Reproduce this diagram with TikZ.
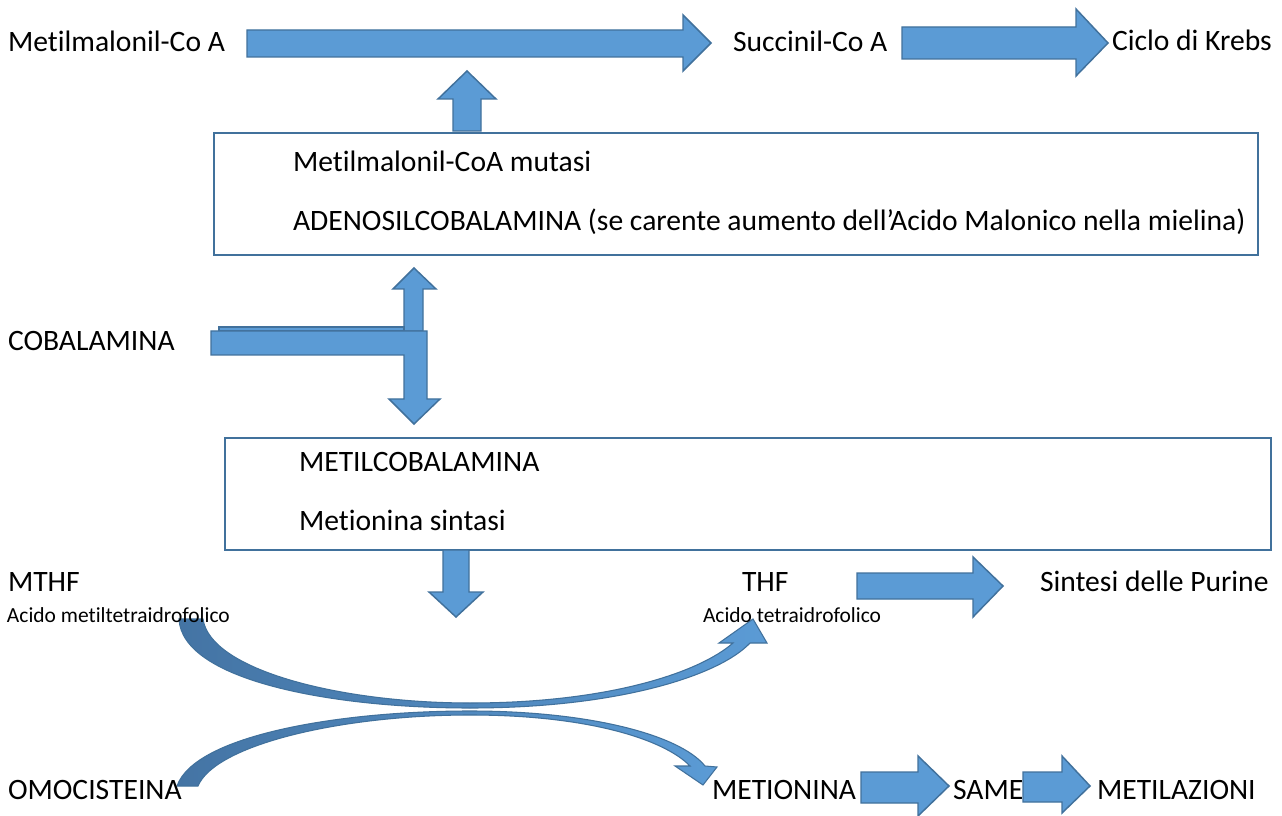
\documentclass[tikz,border=0pt]{standalone}
\usepackage{fontspec}
\setmainfont{Carlito}[Ligatures={NoCommon}]
\definecolor{afill}{RGB}{91,155,213}
\definecolor{aline}{RGB}{65,113,156}
\definecolor{cfill}{RGB}{68,116,164}
\tikzset{
  blockarrow/.style={fill=afill, draw=aline, line width=1.1pt, line join=miter},
  curvearrow/.style={left color=cfill, right color=afill, draw=aline, line width=0.8pt, line join=miter},
  boxstyle/.style={draw=aline, line width=1.4pt, fill=white},
  txt/.style={inner sep=0pt, outer sep=0pt, font=\fontsize{22.2}{26}\selectfont, text=black},
  small/.style={inner sep=0pt, outer sep=0pt, font=\fontsize{16.1}{19}\selectfont, text=black},
}
\begin{document}
\begin{tikzpicture}[x=0.75pt, y=-0.75pt]
\useasboundingbox (0,0) rectangle (1282,816);
\fill[white] (0,0) rectangle (1282,816);

% top row arrows
\draw[blockarrow] (247,30) -- (683,30) -- (683,15) -- (711,43) -- (683,71) -- (683,57) -- (247,57) -- cycle;
\draw[blockarrow] (902,27) -- (1076,27) -- (1076,9) -- (1108,43) -- (1076,76) -- (1076,59) -- (902,59) -- cycle;

% small up arrow above box 1
\draw[blockarrow] (453,131) -- (453,99) -- (438,99) -- (467,71) -- (496,99) -- (481,99) -- (481,131) -- cycle;

% box 1
\node[boxstyle, minimum width=1044*0.75pt, minimum height=122*0.75pt, anchor=north west, inner sep=0pt] (box1) at (213,132) {};
\node[txt, anchor=base west] (mutasi) at (293,172) {Metilmalonil-CoA mutasi};
\node[txt, anchor=base west] (adeno) at (293,231) {ADENOSILCOBALAMINA (se carente aumento dell’Acido Malonico nella mielina)};

% cobalamina T-shape
\draw[blockarrow] (404,331) -- (404,289) -- (393,289) -- (414,268) -- (436,289) -- (423,289) -- (423,331) -- cycle;
\draw[blockarrow] (219,327) -- (404,327) -- (404,331) -- (219,331) -- cycle;
\draw[blockarrow] (211,331) -- (427,331) -- (427,399) -- (440,399) -- (414,424) -- (389,399) -- (404,399) -- (404,355) -- (211,355) -- cycle;

% box 2
\node[boxstyle, minimum width=1046*0.75pt, minimum height=112*0.75pt, anchor=north west, inner sep=0pt] (box2) at (224,437) {};
\node[txt, anchor=base west] (metilcob) at (299,472) {METILCOBALAMINA};
\node[txt, anchor=base west] (sintasi) at (299,530) {Metionina sintasi};

% down arrow below box 2
\draw[blockarrow] (443,550) -- (469,550) -- (469,592) -- (483,592) -- (456,617) -- (429,592) -- (443,592) -- cycle;

% THF -> Sintesi arrow
\draw[blockarrow] (857,573) -- (973,573) -- (973,557) -- (1003,586) -- (973,617) -- (973,599) -- (857,599) -- cycle;

% bottom arrows
\draw[blockarrow] (861,772) -- (918,772) -- (918,756) -- (949,786) -- (918,816) -- (918,803) -- (861,803) -- cycle;
\draw[blockarrow] (1023,772) -- (1062,772) -- (1062,756) -- (1090,786) -- (1062,813) -- (1062,802) -- (1023,802) -- cycle;

% curved arrows
\draw[curvearrow] (179,619) .. controls (182,680) and (330,708) .. (470,708)
  .. controls (620,708) and (720,675) .. (750,643) -- (767,643) -- (753,619) -- (719,643) -- (733,643)
  .. controls (700,672) and (610,703) .. (470,703)
  .. controls (340,703) and (210,670) .. (203,619) -- cycle;
\draw[curvearrow] (177,786) .. controls (195,735) and (340,711) .. (470,711)
  .. controls (590,711) and (680,735) .. (705,766) -- (717,767) -- (703,785) -- (675,766) -- (690,766)
  .. controls (665,740) and (590,715) .. (470,715)
  .. controls (340,715) and (215,745) .. (198,786) -- cycle;

% labels
\node[txt, anchor=base west] (metilmal) at (8,52) {Metilmalonil-Co A};
\node[txt, anchor=base west] (succinil) at (733,52) {Succinil-Co A};
\node[txt, anchor=base west] (krebs) at (1112,51) {Ciclo di Krebs};
\node[txt, anchor=base west] (cobal) at (8,351) {COBALAMINA};
\node[txt, anchor=base west] (mthf) at (8,591) {MTHF};
\node[small, anchor=base west] (mthfl) at (7,622) {Acido metiltetraidrofolico};
\node[txt, anchor=base west] (thf) at (742,591) {THF};
\node[small, anchor=base west] (thfl) at (703,622) {Acido tetraidrofolico};
\node[txt, anchor=base west] (purine) at (1040,591) {Sintesi delle Purine};
\node[txt, anchor=base west] (omoc) at (8,799) {OMOCISTEINA};
\node[txt, anchor=base west] (metion) at (712,799) {METIONINA};
\node[txt, anchor=base west] (same) at (953,799) {SAME};
\node[txt, anchor=base west] (metilaz) at (1097,799) {METILAZIONI};
\end{tikzpicture}
\end{document}
